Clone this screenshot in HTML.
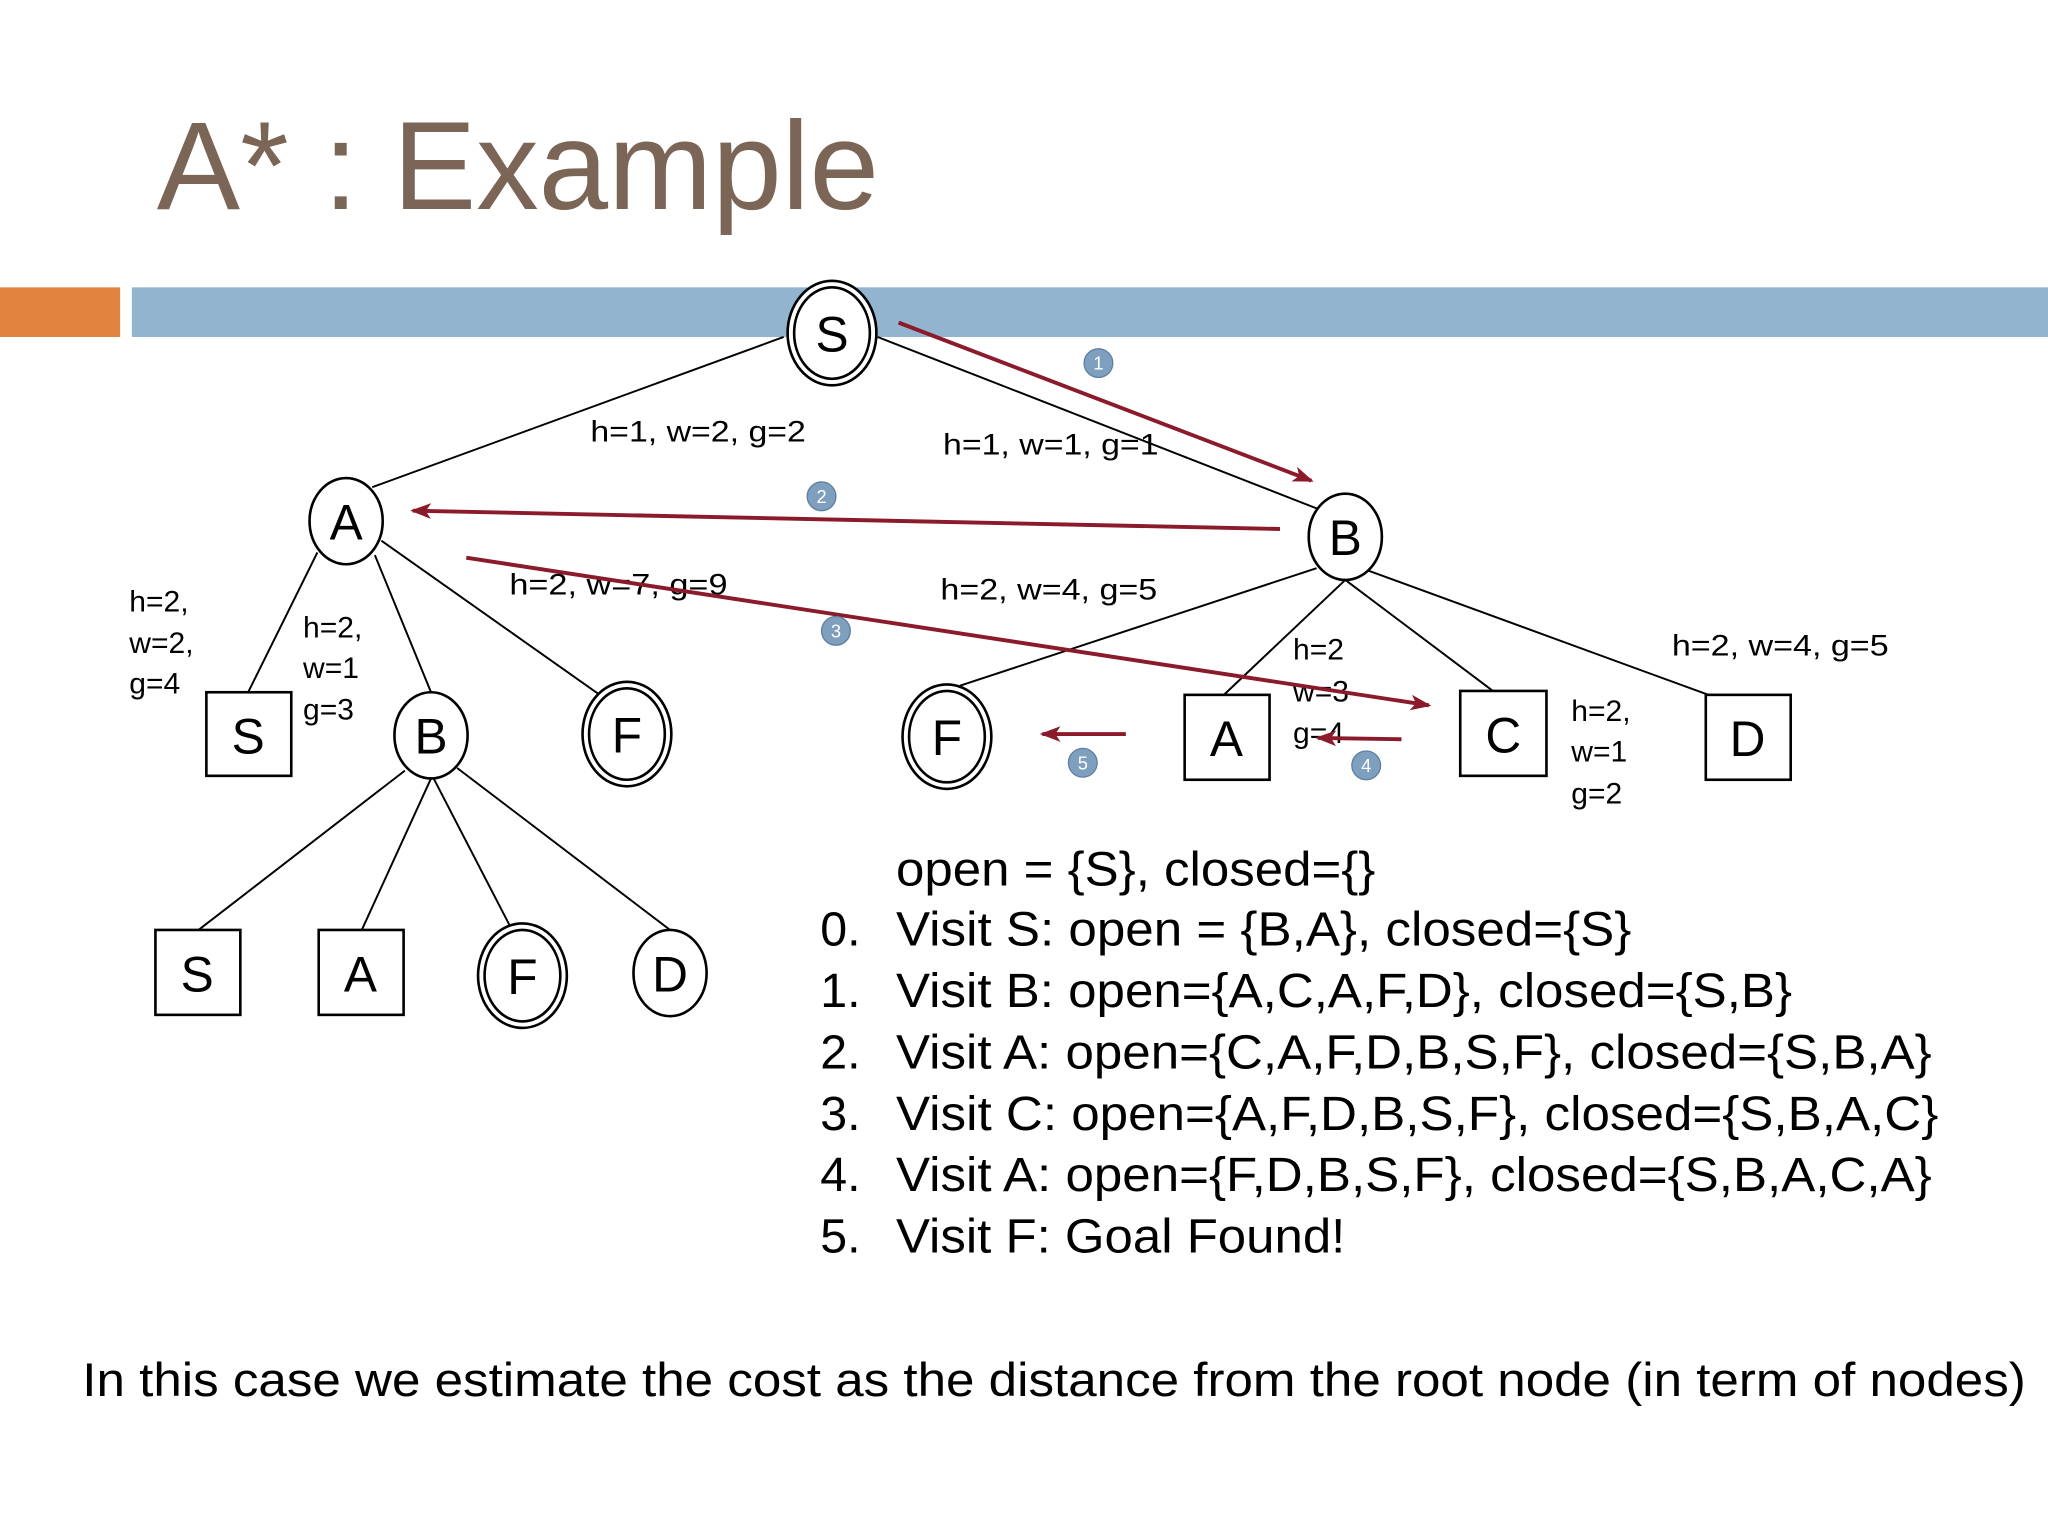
<!DOCTYPE html>
<html><head><meta charset="utf-8"><style>html,body{margin:0;padding:0;background:#fff}svg{display:block}</style></head>
<body>
<svg width="2048" height="1536" viewBox="0 0 1568 1176" preserveAspectRatio="none" xmlns="http://www.w3.org/2000/svg" font-family="Liberation Sans, sans-serif">
<rect width="1568" height="1176" fill="#fff"/>
<text x="120" y="160" font-size="96" fill="#7b6557" textLength="553" lengthAdjust="spacingAndGlyphs">A* : Example</text>
<rect x="0" y="220" width="92" height="38" fill="#e0843f"/>
<rect x="101" y="220" width="1467" height="38" fill="#93b4cf"/>
<g stroke="#000" stroke-width="1.5" fill="none">
<line x1="600" y1="258" x2="285" y2="373"/>
<line x1="672" y1="258" x2="1010" y2="390"/>
<line x1="243" y1="423" x2="190" y2="530"/>
<line x1="287" y1="425" x2="330" y2="530"/>
<line x1="292" y1="414" x2="462" y2="534"/>
<line x1="1008" y1="435" x2="735" y2="525"/>
<line x1="1030" y1="444" x2="937" y2="532"/>
<line x1="1030" y1="444" x2="1143" y2="529"/>
<line x1="1048" y1="437" x2="1308" y2="532"/>
<line x1="310" y1="590" x2="152" y2="712"/>
<line x1="330" y1="596" x2="277" y2="712"/>
<line x1="332" y1="596" x2="392" y2="712"/>
<line x1="350" y1="588" x2="513" y2="712"/>
</g>
<g stroke="#000" stroke-width="2" fill="#fff">
<ellipse cx="637" cy="255" rx="34" ry="40"/><ellipse cx="637" cy="255" rx="29" ry="35"/>
<ellipse cx="265" cy="399" rx="28" ry="33"/>
<ellipse cx="1030" cy="411" rx="28" ry="33"/>
<rect x="158" y="530" width="65" height="64"/>
<ellipse cx="330" cy="563" rx="28" ry="33"/>
<ellipse cx="480" cy="562" rx="34" ry="40"/><ellipse cx="480" cy="562" rx="29" ry="35"/>
<ellipse cx="725" cy="564" rx="34" ry="40"/><ellipse cx="725" cy="564" rx="29" ry="35"/>
<rect x="907" y="532" width="65" height="65"/>
<rect x="1118" y="529" width="66" height="65"/>
<rect x="1306" y="532" width="65" height="65"/>
<rect x="119" y="712" width="65" height="65"/>
<rect x="244" y="712" width="65" height="65"/>
<ellipse cx="400" cy="747" rx="34" ry="40"/><ellipse cx="400" cy="747" rx="29" ry="35"/>
<ellipse cx="513" cy="745" rx="28" ry="33"/>
</g>
<g font-size="38" text-anchor="middle" fill="#000">
<text x="637" y="269">S</text><text x="265" y="413">A</text><text x="1030" y="425">B</text>
<text x="190" y="577">S</text><text x="330" y="577">B</text><text x="480" y="576">F</text>
<text x="725" y="578">F</text><text x="939" y="579">A</text><text x="1151" y="576">C</text><text x="1338" y="579">D</text>
<text x="151" y="759">S</text><text x="276" y="759">A</text><text x="400" y="761">F</text><text x="513" y="759">D</text>
</g>
<g font-size="23" fill="#000" lengthAdjust="spacingAndGlyphs">
<text x="452" y="338" textLength="165" lengthAdjust="spacingAndGlyphs">h=1, w=2, g=2</text>
<text x="722" y="348" textLength="165" lengthAdjust="spacingAndGlyphs">h=1, w=1, g=1</text>
<text x="390" y="455" textLength="167" lengthAdjust="spacingAndGlyphs">h=2, w=7, g=9</text>
<text x="720" y="459" textLength="166" lengthAdjust="spacingAndGlyphs">h=2, w=4, g=5</text>
<text x="1280" y="502" textLength="166" lengthAdjust="spacingAndGlyphs">h=2, w=4, g=5</text>
<text x="99" y="468">h=2,</text><text x="99" y="500">w=2,</text><text x="99" y="531">g=4</text>
<text x="232" y="488">h=2,</text><text x="232" y="519">w=1</text><text x="232" y="551">g=3</text>
<text x="990" y="505">h=2</text><text x="990" y="537">w=3</text><text x="990" y="569">g=4</text>
<text x="1203" y="552">h=2,</text><text x="1203" y="583">w=1</text><text x="1203" y="615">g=2</text>
</g>
<defs><marker id="ah" markerWidth="16" markerHeight="12" refX="14" refY="6" orient="auto" markerUnits="userSpaceOnUse"><path d="M0,0 L16,6 L0,12 L4,6 z" fill="#8b1a2b"/></marker></defs>
<g stroke="#8b1a2b" stroke-width="3" marker-end="url(#ah)">
<line x1="688" y1="247" x2="1004" y2="368"/>
<line x1="980" y1="405" x2="316" y2="391"/>
<line x1="357" y1="427" x2="1094" y2="540"/>
<line x1="1073" y1="566" x2="1009" y2="565"/>
<line x1="862" y1="562" x2="798" y2="562"/>
</g>
<g fill="#7f9fbf" stroke="#5f7f9f" stroke-width="1">
<circle cx="841" cy="278" r="11"/><circle cx="629" cy="380" r="11"/><circle cx="640" cy="483" r="11"/><circle cx="1046" cy="586" r="11"/><circle cx="829" cy="584" r="11"/>
</g>
<g font-size="14" fill="#fff" text-anchor="middle">
<text x="841" y="283">1</text><text x="629" y="385">2</text><text x="640" y="488">3</text><text x="1046" y="591">4</text><text x="829" y="589">5</text>
</g>
<g font-size="37" fill="#000">
<text x="686" y="678" textLength="367" lengthAdjust="spacingAndGlyphs">open = {S}, closed={}</text>
<text x="628" y="724">0.</text><text x="686" y="724" textLength="563" lengthAdjust="spacingAndGlyphs">Visit S: open = {B,A}, closed={S}</text>
<text x="628" y="771">1.</text><text x="686" y="771" textLength="686" lengthAdjust="spacingAndGlyphs">Visit B: open={A,C,A,F,D}, closed={S,B}</text>
<text x="628" y="818">2.</text><text x="686" y="818" textLength="793" lengthAdjust="spacingAndGlyphs">Visit A: open={C,A,F,D,B,S,F}, closed={S,B,A}</text>
<text x="628" y="865">3.</text><text x="686" y="865" textLength="798" lengthAdjust="spacingAndGlyphs">Visit C: open={A,F,D,B,S,F}, closed={S,B,A,C}</text>
<text x="628" y="912">4.</text><text x="686" y="912" textLength="793" lengthAdjust="spacingAndGlyphs">Visit A: open={F,D,B,S,F}, closed={S,B,A,C,A}</text>
<text x="628" y="959">5.</text><text x="686" y="959" textLength="344" lengthAdjust="spacingAndGlyphs">Visit F: Goal Found!</text>
</g>
<text x="63" y="1069" font-size="36" fill="#000" textLength="1488" lengthAdjust="spacingAndGlyphs">In this case we estimate the cost as the distance from the root node (in term of nodes)</text>
</svg>
</body></html>
